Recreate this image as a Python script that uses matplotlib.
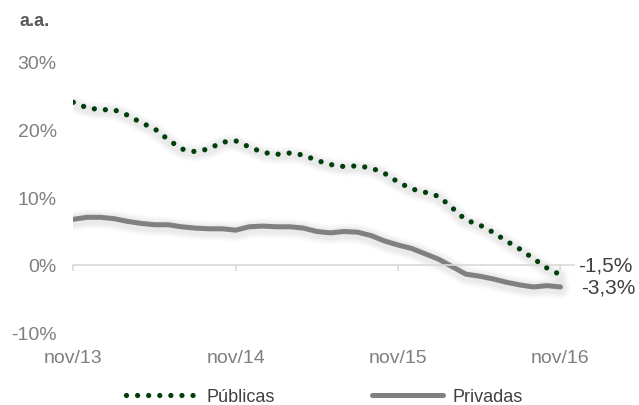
import numpy as np
import matplotlib
matplotlib.use('Agg')
import matplotlib.pyplot as plt

plt.rcParams['font.family'] = ['Liberation Sans', 'DejaVu Sans']

# dados mensais nov/13 .. nov/16 (% a.a.)
publicas = [24.0, 23.2, 22.9, 22.9, 22.1, 21.0, 20.1, 18.5, 17.1, 16.7, 17.1, 18.1,
            18.3, 17.4, 16.6, 16.3, 16.5, 16.2, 15.4, 14.8, 14.5, 14.6, 14.3, 13.5,
            12.2, 11.2, 10.7, 10.1, 8.4, 6.6, 5.9, 4.8, 3.5, 2.3, 0.9, -0.5, -1.5]
privadas = [6.7, 7.0, 7.0, 6.8, 6.4, 6.1, 5.9, 5.9, 5.6, 5.4, 5.3, 5.3,
            5.1, 5.6, 5.7, 5.6, 5.6, 5.4, 4.9, 4.7, 4.9, 4.8, 4.3, 3.5,
            2.9, 2.4, 1.6, 0.8, -0.3, -1.4, -1.7, -2.1, -2.6, -3.0, -3.3, -3.1, -3.3]
tick_pos = [0, 12, 24, 36]
tick_labels = ['nov/13', 'nov/14', 'nov/15', 'nov/16']
yticks = [-10, 0, 10, 20, 30]

x = np.arange(len(publicas))
verde = '#003f0c'
cinza = '#808080'

fig = plt.figure(figsize=(6.39, 4.06), dpi=100)
ax = fig.add_axes([0.1147, 0.179, 0.7836, 0.6666])

# sombra suave
for lw, a in [(12, 0.04), (9, 0.05), (6, 0.06)]:
    ax.plot(x, np.array(publicas) - 0.25, color='#707070', lw=lw, alpha=a,
            solid_capstyle='round', zorder=1)
    ax.plot(x, np.array(privadas) - 0.25, color='#707070', lw=lw + 2, alpha=a,
            solid_capstyle='round', zorder=1)

ax.plot(x, publicas, color=verde, lw=3.8, linestyle=(0, (0.001, 2.1)),
        dash_capstyle='round', label='Públicas', zorder=3)
ax.plot(x, privadas, color=cinza, lw=3.6, solid_capstyle='round',
        label='Privadas', zorder=2)

ax.set_xlim(0, 37)
ax.set_ylim(-10, 30)
ax.set_yticks(yticks)
ax.set_yticklabels([f'{v}%' for v in yticks])
ax.set_xticks(tick_pos)
ax.set_xticklabels(tick_labels)

for s in ['top', 'right', 'left']:
    ax.spines[s].set_visible(False)
ax.spines['bottom'].set_position(('data', 0))
ax.spines['bottom'].set_color('#d9d9d9')
ax.spines['bottom'].set_linewidth(1.2)
ax.tick_params(axis='x', direction='out', length=4, width=1.2, color='#d9d9d9',
               pad=57, labelsize=14, labelcolor='#7f7f7f')
ax.tick_params(axis='y', length=0, pad=12, labelsize=14, labelcolor='#7f7f7f')

# rótulos finais
ax.annotate(f'{publicas[-1]:.1f}%'.replace('.', ','), (x[-1], publicas[-1]),
            xytext=(13, 7), textcoords='offset points', ha='left', va='center',
            fontsize=15, color='#404040')
ax.annotate(f'{privadas[-1]:.1f}%'.replace('.', ','), (x[-1], privadas[-1]),
            xytext=(15, 0), textcoords='offset points', ha='left', va='center',
            fontsize=15, color='#404040')

fig.text(0.031, 0.947, 'a.a.', fontsize=13, fontweight='bold', color='#595959',
         ha='left', va='center')

fig.legend(loc='center', bbox_to_anchor=(0.508, 0.02), ncol=2, frameon=False,
           fontsize=13, handlelength=3.9, columnspacing=5.4, handletextpad=0.55,
           labelcolor='#404040')

fig.savefig('out.png', dpi=100)
